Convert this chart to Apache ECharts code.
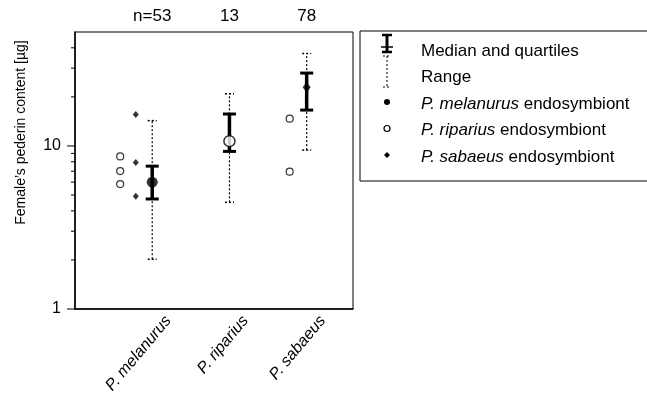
<!DOCTYPE html>
<html>
<head>
<meta charset="utf-8">
<script src="https://cdn.jsdelivr.net/npm/echarts@6/dist/echarts.min.js"></script>
<style>
  html, body { margin: 0; padding: 0; background: #fff; }
  #chart { width: 647px; height: 405px; }
</style>
</head>
<body>
<div id="chart"></div>
<script>
// host species and their x positions
var hosts = ['P. melanurus', 'P. riparius', 'P. sabaeus'];
var hostX = [1, 2, 3];
var nLabels = ['n=53', '13', '78'];

// pederin content per host (µg)
var rangeMin = [2.02, 4.51, 9.43];
var rangeMax = [14.3, 20.9, 36.9];
var q1 = [4.73, 9.26, 16.6];
var q3 = [7.52, 15.7, 28.0];
var median = [6.0, 10.7, 22.9];

// single females by endosymbiont type: [x, value]
var melanurusSymbiont = [[1, 6.0]];
var ripariusSymbiont = [[0.585, 8.62], [0.585, 7.01], [0.585, 5.84], [2.78, 14.7], [2.78, 6.95]];
var ripariusMedian = [[2, 10.7]];
var sabaeusSymbiont = [[0.787, 15.6], [0.787, 7.93], [0.787, 4.91]];
var sabaeusMedian = [[3, 22.9]];

// y axis ticks
var yLabels = [1, 10];
var yMajorTicks = [1, 10];
var yMinorTicks = [2, 3, 4, 5, 6, 7, 8, 9, 20, 30, 40];

var X_MIN = 0, X_MAX = 3.6, Y_MIN = 1, Y_MAX = 50;
var FONT = 'Liberation Sans, Arial, sans-serif';

var myChart = echarts.init(document.getElementById('chart'));

var rangeData = hostX.map(function (x, i) { return [x, rangeMin[i], rangeMax[i]]; });
var iqrData = hostX.map(function (x, i) { return [x, q1[i], q3[i]]; });
var tickData = yMajorTicks.map(function (v) { return [X_MIN, v, 8]; })
    .concat(yMinorTicks.map(function (v) { return [X_MIN, v, 4]; }));
var labelData = hostX.map(function (x, i) { return [x, Y_MIN, i]; });

function blackLine(x1, y1, x2, y2, w, dash) {
    return {
        type: 'line',
        shape: { x1: x1, y1: y1, x2: x2, y2: y2 },
        style: { stroke: '#000', lineWidth: w, lineDash: dash || null }
    };
}

function legendText(y, text) {
    return {
        type: 'text', x: 421, y: y,
        style: {
            text: text, font: '17px ' + FONT, fill: '#000', verticalAlign: 'middle',
            rich: { i: { fontStyle: 'italic', fontFamily: FONT, fontSize: 17 } }
        }
    };
}

var option = {
    animation: false,
    grid: { left: 75, right: 294, top: 32, bottom: 96, show: true, borderColor: '#000', borderWidth: 1 },
    xAxis: [
        {
            type: 'value', min: X_MIN, max: X_MAX,
            splitLine: { show: false },
            axisLine: { lineStyle: { color: '#000', width: 1.5 } },
            axisTick: { show: false },
            axisLabel: { show: false }
        },
        {
            type: 'value', position: 'top', min: X_MIN, max: X_MAX,
            splitLine: { show: false },
            axisLine: { show: false },
            axisTick: { show: false },
            axisLabel: {
                customValues: hostX,
                margin: 7,
                color: '#000',
                fontFamily: FONT,
                fontSize: 17,
                formatter: function (v) {
                    var i = hostX.indexOf(Math.round(v));
                    return i >= 0 ? nLabels[i] : '';
                }
            }
        }
    ],
    yAxis: {
        type: 'log', logBase: 10, min: Y_MIN, max: Y_MAX,
        name: 'Female\u2019s pederin content [\u00b5g]',
        nameLocation: 'middle',
        nameGap: 47,
        nameTextStyle: { color: '#000', fontFamily: FONT, fontSize: 14, padding: [0, 0, 0, 76] },
        splitLine: { show: false },
        axisLine: { lineStyle: { color: '#000', width: 1.5 } },
        axisTick: { show: false },
        axisLabel: {
            margin: 14,
            color: '#000',
            fontFamily: FONT,
            fontSize: 16,
            showMaxLabel: false,
            formatter: function (v) {
                return yLabels.indexOf(Math.round(v)) >= 0 ? String(Math.round(v)) : '';
            }
        }
    },
    series: [
        {
            // y ticks (major and minor)
            type: 'custom', silent: true, clip: false,
            data: tickData,
            renderItem: function (params, api) {
                var p = api.coord([api.value(0), api.value(1)]);
                return blackLine(p[0] - api.value(2), p[1], p[0], p[1], 1);
            }
        },
        {
            // host labels under the axis
            type: 'custom', silent: true, clip: false,
            data: labelData,
            renderItem: function (params, api) {
                var p = api.coord([api.value(0), api.value(1)]);
                return {
                    type: 'text',
                    x: p[0] + 16, y: p[1] + 9,
                    rotation: 50 * Math.PI / 180,
                    style: {
                        text: hosts[api.value(2)],
                        align: 'right', verticalAlign: 'middle',
                        font: 'italic 16px ' + FONT,
                        fill: '#000'
                    }
                };
            }
        },
        {
            name: 'Range',
            type: 'custom', silent: true, z: 2,
            data: rangeData,
            renderItem: function (params, api) {
                var lo = api.coord([api.value(0), api.value(1)]);
                var hi = api.coord([api.value(0), api.value(2)]);
                var w = 4.5, d = [2, 2];
                return {
                    type: 'group',
                    children: [
                        blackLine(lo[0], lo[1], hi[0], hi[1], 1.2, d),
                        blackLine(lo[0] - w, lo[1], lo[0] + w, lo[1], 1.5, d),
                        blackLine(hi[0] - w, hi[1], hi[0] + w, hi[1], 1.5, d)
                    ]
                };
            }
        },
        {
            name: 'Median and quartiles',
            type: 'custom', silent: true, z: 3,
            data: iqrData,
            renderItem: function (params, api) {
                var lo = api.coord([api.value(0), api.value(1)]);
                var hi = api.coord([api.value(0), api.value(2)]);
                var w = 6.5;
                return {
                    type: 'group',
                    children: [
                        blackLine(lo[0], lo[1], hi[0], hi[1], 3.5),
                        blackLine(lo[0] - w, lo[1], lo[0] + w, lo[1], 3),
                        blackLine(hi[0] - w, hi[1], hi[0] + w, hi[1], 3)
                    ]
                };
            }
        },
        {
            name: 'P. melanurus endosymbiont',
            type: 'scatter', z: 4, silent: true,
            symbol: 'circle', symbolSize: 11,
            itemStyle: { color: '#000' },
            data: melanurusSymbiont
        },
        {
            name: 'P. riparius endosymbiont',
            type: 'scatter', z: 4, silent: true,
            symbol: 'circle', symbolSize: 7,
            itemStyle: { color: '#fff', borderColor: '#000', borderWidth: 1.2 },
            data: ripariusSymbiont
        },
        {
            type: 'scatter', z: 4, silent: true,
            symbol: 'circle', symbolSize: 11,
            itemStyle: { color: '#fff', borderColor: '#000', borderWidth: 1.5 },
            data: ripariusMedian
        },
        {
            name: 'P. sabaeus endosymbiont',
            type: 'scatter', z: 4, silent: true,
            symbol: 'diamond', symbolSize: [6, 7],
            itemStyle: { color: '#000' },
            data: sabaeusSymbiont
        },
        {
            type: 'scatter', z: 4, silent: true,
            symbol: 'diamond', symbolSize: [8, 11],
            itemStyle: { color: '#000' },
            data: sabaeusMedian
        }
    ],
    graphic: [
        {
            type: 'rect', shape: { x: 360, y: 31, width: 300, height: 150 },
            style: { fill: 'none', stroke: '#000', lineWidth: 1 }
        },
        // median and quartiles icon
        { type: 'line', shape: { x1: 387, y1: 35, x2: 387, y2: 52 }, style: { stroke: '#000', lineWidth: 3 } },
        { type: 'line', shape: { x1: 382, y1: 35, x2: 392, y2: 35 }, style: { stroke: '#000', lineWidth: 2.5 } },
        { type: 'line', shape: { x1: 381, y1: 47, x2: 393, y2: 47 }, style: { stroke: '#000', lineWidth: 1.5 } },
        { type: 'line', shape: { x1: 382, y1: 52, x2: 392, y2: 52 }, style: { stroke: '#000', lineWidth: 2.5 } },
        // range icon
        { type: 'line', shape: { x1: 387, y1: 56, x2: 387, y2: 87 }, style: { stroke: '#000', lineWidth: 1, lineDash: [2, 2] } },
        { type: 'line', shape: { x1: 383, y1: 56, x2: 391, y2: 56 }, style: { stroke: '#000', lineWidth: 1, lineDash: [2, 2] } },
        { type: 'line', shape: { x1: 383, y1: 87, x2: 391, y2: 87 }, style: { stroke: '#000', lineWidth: 1, lineDash: [2, 2] } },
        // endosymbiont icons
        { type: 'circle', shape: { cx: 387, cy: 102, r: 3 }, style: { fill: '#000' } },
        { type: 'circle', shape: { cx: 387, cy: 128.5, r: 3 }, style: { fill: '#fff', stroke: '#000', lineWidth: 1.2 } },
        { type: 'polygon', shape: { points: [[387, 152], [390, 155], [387, 158], [384, 155]] }, style: { fill: '#000' } },
        // legend texts
        legendText(51, 'Median and quartiles'),
        legendText(77.5, 'Range'),
        legendText(104, '{i|P. melanurus} endosymbiont'),
        legendText(130.5, '{i|P. riparius} endosymbiont'),
        legendText(157, '{i|P. sabaeus} endosymbiont')
    ]
};

myChart.setOption(option);

window.addEventListener('resize', function () {
    myChart.resize();
});
</script>
</body>
</html>
